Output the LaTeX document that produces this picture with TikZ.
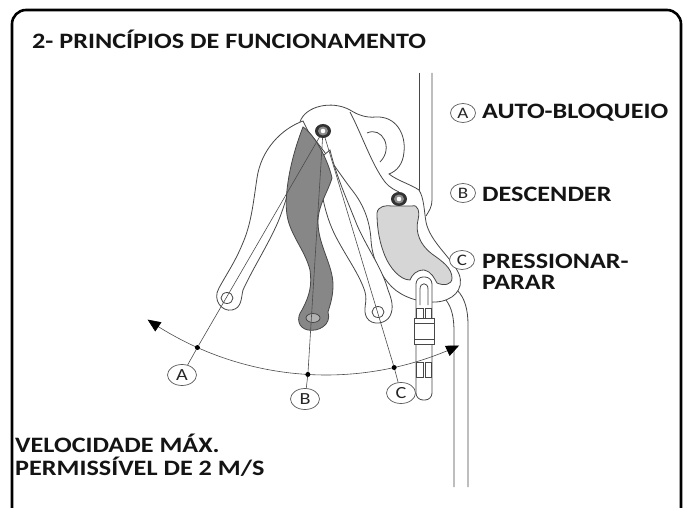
\documentclass[tikz,border=0pt]{standalone}
\usepackage{fontspec}
\setmainfont{Carlito}[FakeStretch=1.19]
\usetikzlibrary{arrows.meta,shapes.geometric}

\begin{document}
\begin{tikzpicture}[x=1pt,y=-1pt,
  outl/.style={draw=black!72, line width=0.8pt},
  part/.style={outl, fill=white},
  guide/.style={draw=black!70, line width=0.6pt},
  tag/.style={ellipse, draw=black!65, line width=0.7pt, fill=white,
    minimum width=29pt, minimum height=21pt, inner sep=0pt,
    font=\fontsize{17}{17}\selectfont, text=black!85},
  rtag/.style={tag, minimum width=25pt, minimum height=19pt,
    font=\fontsize{16}{16}\selectfont},
  caption/.style={font=\fontsize{22}{22}\selectfont\bfseries,
    text=black!92, inner sep=0pt, anchor=base west},
  dot/.style={circle, fill=black, inner sep=0pt, minimum size=5pt},
  swing/.style={guide, >={Triangle[length=13pt,width=11pt,color=black]}, <->},
]
\clip (0,0) rectangle (688,508);
\fill[white] (0,0) rectangle (688,508);

% outer frame (open at the bottom edge)
\draw[line width=2.6pt, rounded corners=14pt] (12,10) rectangle (681,540);

% rope: upper and lower strands
\draw[outl] (419,73) -- (419,196);
\draw[outl] (432,73) -- (432,200) .. controls (432,207) and (429,211) .. (426,216);
\draw[outl] (446,300) .. controls (452,308) and (454,318) .. (454,332) -- (454,487);
\draw[outl] (457,290) .. controls (465,298) and (468,310) .. (468,325) -- (468,487);

% side plate of the device
\draw[part] (300,122)
  .. controls (305,106) and (332,100) .. (350,110)
  .. controls (358,115) and (366,118) .. (376,117)
  .. controls (396,116) and (406,134) .. (404,152)
  .. controls (403,164) and (397,171) .. (389,174)
  .. controls (398,181) and (410,184) .. (419,190)
  .. controls (424,198) and (424,210) .. (426,222)
  .. controls (430,242) and (452,258) .. (459,274)
  .. controls (465,290) and (452,301) .. (436,302)
  .. controls (420,303) and (402,297) .. (392,287)
  .. controls (380,275) and (372,258) .. (371,240)
  .. controls (370,222) and (364,205) .. (352,190)
  .. controls (338,172) and (325,150) .. (300,122) -- cycle;
\draw[outl] (350,112) .. controls (362,135) and (372,165) .. (385,182)
  .. controls (390,188) and (395,190) .. (399,192);
\draw[outl] (367,133) .. controls (382,126) and (394,148) .. (380,162);

% cam
\draw[outl, fill=black!16] (377,213)
  .. controls (378,206) and (386,205) .. (392,206) -- (412,206)
  .. controls (418,204) and (420,212) .. (418,220)
  .. controls (415,232) and (420,245) .. (432,254)
  .. controls (442,261) and (452,268) .. (452,278)
  .. controls (452,285) and (444,286) .. (437,283)
  .. controls (434,278) and (432,272) .. (424,270)
  .. controls (416,270) and (412,275) .. (410,280)
  .. controls (400,280) and (390,268) .. (385,256)
  .. controls (380,244) and (377,230) .. (377,213) -- cycle;

% handle, position A
\draw[part] (303,121)
  .. controls (281,129) and (261,150) .. (257,178)
  .. controls (253,205) and (251,225) .. (242,245)
  .. controls (235,262) and (226,275) .. (219,288)
  .. controls (212,300) and (222,312) .. (232,310)
  .. controls (242,308) and (241,298) .. (243,290)
  .. controls (252,270) and (268,245) .. (278,222)
  .. controls (288,198) and (296,160) .. (310,135) -- cycle;
\draw[part] (227,298) ellipse [x radius=6pt, y radius=5.5pt];

% handle, position C
\draw[part] (330,150)
  .. controls (336,175) and (345,195) .. (357,225)
  .. controls (368,250) and (382,268) .. (388,290)
  .. controls (392,300) and (394,308) .. (390,316)
  .. controls (386,324) and (372,326) .. (367,318)
  .. controls (362,310) and (368,302) .. (365,292)
  .. controls (360,275) and (345,255) .. (335,235)
  .. controls (325,215) and (320,190) .. (318,160) -- cycle;
\draw[part] (378,312) ellipse [x radius=6pt, y radius=5.5pt];

% handle, position B
\draw[outl, fill=black!47] (303,127)
  .. controls (315,135) and (328,160) .. (332,178)
  .. controls (328,192) and (318,205) .. (318,222)
  .. controls (318,245) and (333,265) .. (333,285)
  .. controls (333,297) and (330,305) .. (328,312)
  .. controls (332,325) and (318,332) .. (308,330)
  .. controls (298,328) and (296,318) .. (302,310)
  .. controls (310,295) and (312,285) .. (310,270)
  .. controls (305,250) and (290,235) .. (287,215)
  .. controls (284,195) and (290,160) .. (303,127) -- cycle;
\draw[outl, fill=black!30] (313,318) ellipse [x radius=7pt, y radius=4.5pt];

% carabiner bar with sleeve
\draw[part, rounded corners=7pt] (416,277) rectangle (432,400);
\draw[outl] (420,305) -- (420,289) .. controls (420,282) and (428,282) .. (428,289) -- (428,305);
\draw[part] (414,318) rectangle (434,344);
\draw[outl] (414,323) -- (434,323) (414,339) -- (434,339);
\draw[outl] (416.5,308) rectangle (423,318) (425,308) rectangle (431.5,318);
\draw[outl] (416.5,362) rectangle (423,377) (425,362) rectangle (431.5,377);

% swing arc and the three positions
\draw[swing] plot[domain=65:124.5, samples=60, smooth]
  ({326+315*cos(\x)},{60+315*sin(\x)});
\coordinate (pv) at (323,131);
\node[dot] (dA) at ({326+315*cos(114.1)},{60+315*sin(114.1)}) {};
\node[dot] (dB) at ({326+315*cos(93.3)},{60+315*sin(93.3)}) {};
\node[dot] (dC) at ({326+315*cos(77.5)},{60+315*sin(77.5)}) {};
\node[tag] (lA) at (182,375) {A};
\node[tag] (lB) at (305,399) {B};
\node[tag] (lC) at (401,393) {C};
\draw[guide] (pv) -- (dA) -- (lA);
\draw[guide] (pv) -- (dB) -- (lB);
\draw[guide] (pv) -- (dC) -- (lC);

% pivots
\fill[black!80] (pv) ellipse [x radius=8pt, y radius=7pt];
\fill[black!45] (pv) ellipse [x radius=5pt, y radius=4.5pt];
\fill[white] (pv) circle [radius=2.3pt];
\fill[black!80] (399,199) ellipse [x radius=8pt, y radius=7pt];
\fill[black!45] (399,199) ellipse [x radius=5pt, y radius=4.5pt];
\fill[white] (399,199) circle [radius=2.3pt];

% legend
\node[rtag] (rA) at (463,113) {A};
\node[rtag] (rB) at (463,193) {B};
\node[rtag] (rC) at (462,260) {C};
\node[caption] (tA) at (482,119) {AUTO-BLOQUEIO};
\node[caption] (tB) at (482,201) {DESCENDER};
\node[caption] (tC1) at (482,268) {PRESSIONAR-};
\node[caption] (tC2) at (482,289) {PARAR};

% headings
\node[caption] (title) at (32,49) {2- PRINCÍPIOS DE FUNCIONAMENTO};
\node[caption] (spd1) at (15,452) {VELOCIDADE MÁX.};
\node[caption] (spd2) at (15,475) {PERMISSÍVEL DE 2 M/S};
\end{tikzpicture}
\end{document}
